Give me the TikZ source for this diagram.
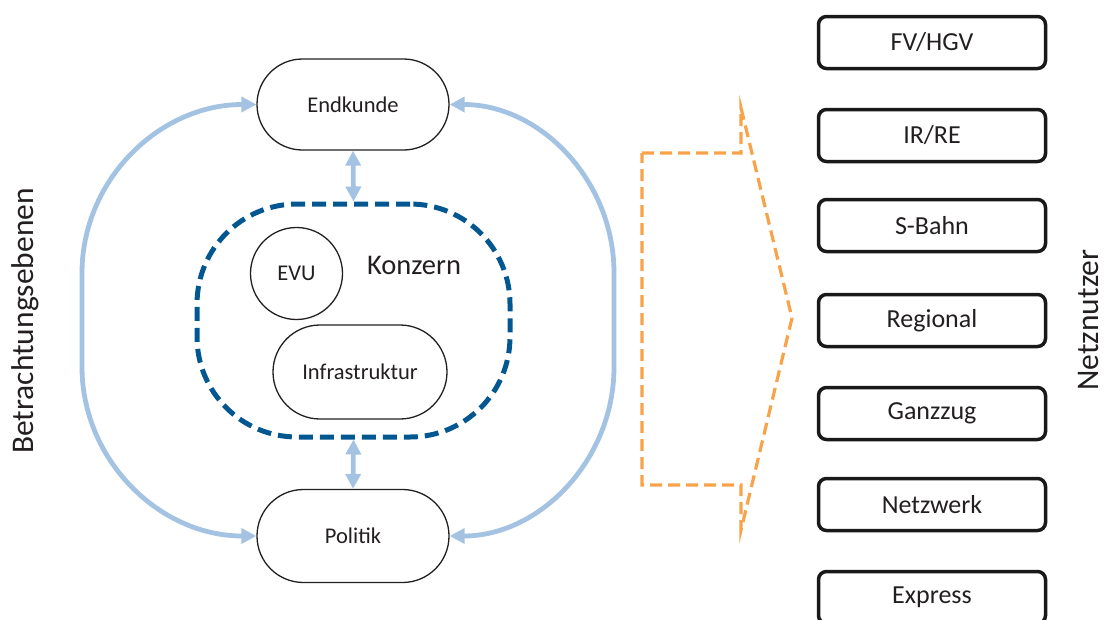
\documentclass[tikz,border=0pt]{standalone}
\usepackage{fontspec}
\setmainfont{Carlito}
\usetikzlibrary{arrows.meta,shapes.misc}
\definecolor{lblue}{HTML}{A4C2E2}
\definecolor{kblue}{HTML}{035790}
\definecolor{orng}{HTML}{F8A34A}
\definecolor{txt}{HTML}{231F20}
\begin{document}
\begin{tikzpicture}[x=1pt,y=-1pt,
  stadium/.style={rounded rectangle, draw=txt, line width=1.3pt, text=txt,
    font=\fontsize{22.5}{27}\selectfont, inner sep=0pt},
  userbox/.style={rectangle, rounded corners=8pt, draw=black!90, line width=3.5pt,
    minimum width=227pt, minimum height=52pt, font=\fontsize{26}{31}\selectfont,
    text=txt, inner sep=0pt},
  flow/.style={draw=lblue, line width=4.8pt,
    {Triangle[length=15pt,width=15pt]}-{Triangle[length=15pt,width=15pt]}},
  sidelabel/.style={rotate=90, text=txt, font=\fontsize{31.5}{36}\selectfont, inner sep=0pt}
]
\useasboundingbox (0,0) rectangle (1105,619);
\clip (0,0) rectangle (1105,619);

% left part
\node[stadium, minimum width=192pt, minimum height=91pt] (ek) at (353,104.5) {Endkunde};
\node[stadium, minimum width=192pt, minimum height=93pt] (po) at (353,536) {Politik};
\node[rectangle, rounded corners=100pt, draw=kblue, line width=5pt,
  dash pattern=on 14pt off 7pt, minimum width=313pt, minimum height=233pt] (kz) at (353.5,320.5) {};
\node[circle, draw=txt, line width=1.3pt, minimum size=92pt, inner sep=0pt, text=txt,
  font=\fontsize{22.5}{27}\selectfont] (evu) at (296.5,273.5) {EVU};
\node[text=txt, font=\fontsize{28.5}{34}\selectfont, inner sep=0pt] (kzl) at (414,265) {Konzern};
\node[stadium, minimum width=174pt, minimum height=94pt] (inf) at (360,372) {Infrastruktur};

\coordinate (l1) at (82,273);
\coordinate (l2) at (82,367);
\coordinate (r1) at (614,273);
\coordinate (r2) at (614,367);

\draw[flow] (ek.west) .. controls +(-97,0) and +(0,-93) .. (l1) -- (l2)
  .. controls +(0,93) and +(-97,0) .. (po.west);
\draw[flow] (ek.east) .. controls +(90,0) and +(0,-93) .. (r1) -- (r2)
  .. controls +(0,93) and +(90,0) .. (po.east);
\draw[flow] (ek.south) -- (kz.north);
\draw[flow] (kz.south) -- (po.north);

\node[sidelabel] (be) at (25,321) {Betrachtungsebenen};

% orange block arrow
\draw[orng, line width=3.2pt, dash pattern=on 12pt off 6pt, line join=miter]
  (642,153) -- (741,153) -- (741,108) -- (792,318) -- (741,530) -- (741,485) -- (642,485) -- cycle;

% right boxes
\node[userbox] (b1) at (932,42.5) {FV/HGV};
\node[userbox] (b2) at (932,135.5) {IR/RE};
\node[userbox] (b3) at (932,225.5) {S-Bahn};
\node[userbox] (b4) at (932,320.5) {Regional};
\node[userbox] (b5) at (932,413.5) {Ganzzug};
\node[userbox] (b6) at (932,504.5) {Netzwerk};
\node[userbox] (b7) at (932,597.5) {Express};

\node[sidelabel] (nn) at (1088,320) {Netznutzer};
\end{tikzpicture}
\end{document}
